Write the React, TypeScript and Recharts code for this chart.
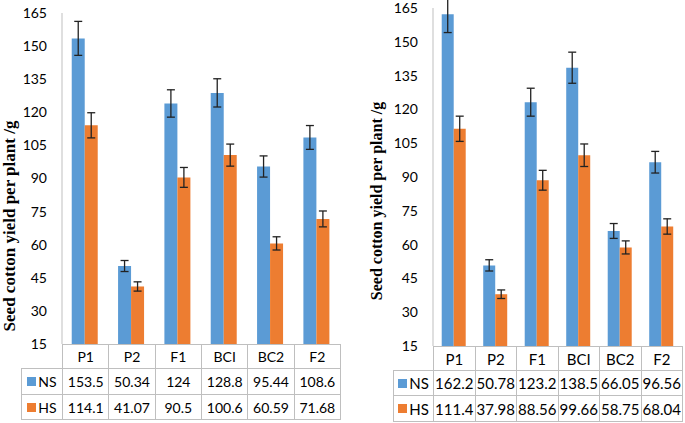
import React from 'react';
import { BarChart, Bar, XAxis, YAxis, ErrorBar } from 'recharts';

const categories = ['P1', 'P2', 'F1', 'BCI', 'BC2', 'F2'];
const yTicks = [15, 30, 45, 60, 75, 90, 105, 120, 135, 150, 165];

// left panel
const nsLeft = [153.5, 50.34, 124, 128.8, 95.44, 108.6];
const hsLeft = [114.1, 41.07, 90.5, 100.6, 60.59, 71.68];
const nsLeftErr = [7.7, 2.5, 6.2, 6.4, 4.8, 5.4];
const hsLeftErr = [5.7, 2.1, 4.5, 5.0, 3.0, 3.6];

// right panel
const nsRight = [162.2, 50.78, 123.2, 138.5, 66.05, 96.56];
const hsRight = [111.4, 37.98, 88.56, 99.66, 58.75, 68.04];
const nsRightErr = [8.1, 2.5, 6.2, 6.9, 3.3, 4.8];
const hsRightErr = [5.6, 1.9, 4.4, 5.0, 2.9, 3.4];

const NS_COLOR = '#5B9BD5';
const HS_COLOR = '#ED7D31';
const GRID = '#bfbfbf';
const SANS = 'Lato, "Open Sans", sans-serif';
const TITLE = 'Seed cotton yield per plant /g';

interface PanelProps {
  ns: number[];
  hs: number[];
  nsErr: number[];
  hsErr: number[];
  legendLeft: number;
  axisX: number;
  plotRight: number;
  plotTop: number;
  plotBottom: number;
  rows: number[]; // y lines: header top, header bottom, NS bottom, HS bottom
  titleX: number;
  titleY: number;
  titleSize: number;
  tableFont: number;
}

const Y_W = 45;
const PAD_B = 12;

function Panel(p: PanelProps) {
  const data = categories.map((c, i) => ({
    cat: c,
    ns: p.ns[i],
    hs: p.hs[i],
    nsErr: p.nsErr[i],
    hsErr: p.hsErr[i],
  }));
  const colW = (p.plotRight - p.axisX) / categories.length;

  const cell = (key: string, x: number, y: number, w: number, h: number, content: React.ReactNode) => (
    <div
      key={key}
      style={{
        position: 'absolute',
        left: x,
        top: y,
        width: w + 1,
        height: h + 1,
        boxSizing: 'border-box',
        border: `1px solid ${GRID}`,
        display: 'flex',
        alignItems: 'center',
        justifyContent: 'center',
        fontFamily: SANS,
        fontSize: p.tableFont,
        color: '#000',
        whiteSpace: 'nowrap',
      }}
    >
      {content}
    </div>
  );

  const [r0, r1, r2, r3] = p.rows;
  const seriesRows = [
    { name: 'NS', color: NS_COLOR, vals: p.ns, top: r1, h: r2 - r1 },
    { name: 'HS', color: HS_COLOR, vals: p.hs, top: r2, h: r3 - r2 },
  ];

  return (
    <>
      <div style={{ position: 'absolute', left: p.axisX - Y_W, top: 0 }}>
        <BarChart
          width={p.plotRight - p.axisX + Y_W}
          height={p.plotBottom + PAD_B}
          data={data}
          margin={{ top: p.plotTop, right: 0, left: 0, bottom: PAD_B }}
          barCategoryGap="21%"
          barGap={0}
        >
          <XAxis dataKey="cat" hide />
          <YAxis
            width={Y_W}
            domain={[15, 165]}
            ticks={yTicks}
            allowDataOverflow
            interval={0}
            tickLine={false}
            tickMargin={9}
            axisLine={{ stroke: GRID }}
            tick={{ fill: '#000', fontSize: 14, fontFamily: SANS }}
          />
          <Bar dataKey="ns" fill={NS_COLOR} isAnimationActive={false}>
            <ErrorBar dataKey="nsErr" width={4} stroke="#222" strokeWidth={1.3} />
          </Bar>
          <Bar dataKey="hs" fill={HS_COLOR} isAnimationActive={false}>
            <ErrorBar dataKey="hsErr" width={4} stroke="#222" strokeWidth={1.3} />
          </Bar>
        </BarChart>
      </div>

      {categories.map((c, i) => cell(`h-${c}`, p.axisX + i * colW, r0, colW, r1 - r0, c))}

      {seriesRows.map((s) => (
        <React.Fragment key={s.name}>
          {cell(
            `l-${s.name}`,
            p.legendLeft,
            s.top,
            p.axisX - p.legendLeft,
            s.h,
            <>
              <span style={{ display: 'inline-block', width: 9, height: 9, background: s.color, marginRight: 2 }} />
              {s.name}
            </>
          )}
          {s.vals.map((v, i) => cell(`${s.name}-${i}`, p.axisX + i * colW, s.top, colW, s.h, String(v)))}
        </React.Fragment>
      ))}

      <div
        style={{
          position: 'absolute',
          left: p.titleX - 150,
          top: p.titleY - 10,
          width: 300,
          height: 20,
          lineHeight: '20px',
          textAlign: 'center',
          transform: 'rotate(-90deg)',
          fontFamily: '"Liberation Serif", "Times New Roman", serif',
          fontWeight: 'bold',
          fontSize: p.titleSize,
          color: '#000',
          whiteSpace: 'nowrap',
        }}
      >
        {TITLE}
      </div>
    </>
  );
}

export default function App() {
  return (
    <div style={{ position: 'fixed', left: 0, top: 0, width: 685, height: 423, background: '#fff', overflow: 'hidden' }}>
      <Panel
        ns={nsLeft}
        hs={hsLeft}
        nsErr={nsLeftErr}
        hsErr={hsLeftErr}
        legendLeft={21}
        axisX={62}
        plotRight={340}
        plotTop={13}
        plotBottom={344}
        rows={[344, 368, 394, 419]}
        titleX={10}
        titleY={226}
        titleSize={17}
        tableFont={14}
      />
      <Panel
        ns={nsRight}
        hs={hsRight}
        nsErr={nsRightErr}
        hsErr={hsRightErr}
        legendLeft={393}
        axisX={433}
        plotRight={682}
        plotTop={8}
        plotBottom={346}
        rows={[346, 370, 395, 421]}
        titleX={377}
        titleY={201}
        titleSize={16}
        tableFont={15}
      />
    </div>
  );
}
